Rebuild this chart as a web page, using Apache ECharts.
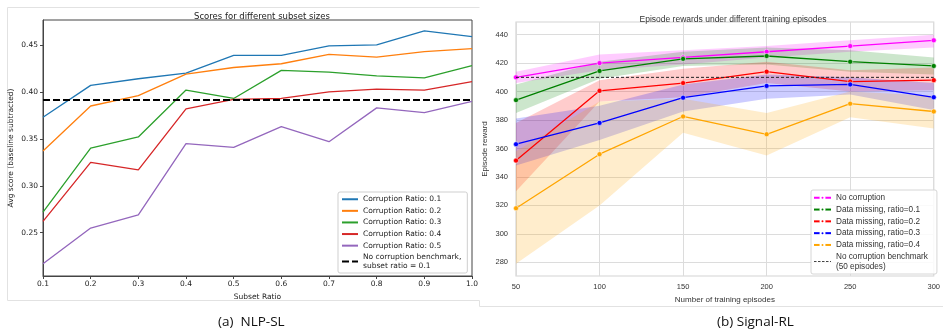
<!DOCTYPE html>
<html>
<head>
<meta charset="utf-8">
<script src="https://cdn.jsdelivr.net/npm/echarts@6/dist/echarts.min.js"></script>
<style>
  html, body { margin: 0; padding: 0; background: #fff; }
  #c { width: 943px; height: 335px; }
</style>
</head>
<body>
<div id="c"></div>
<script>
// ---- (a) NLP-SL: average score vs subset ratio ----
const subsetRatios = [0.1, 0.2, 0.3, 0.4, 0.5, 0.6, 0.7, 0.8, 0.9, 1.0];
const corrupt01 = [0.373, 0.407, 0.414, 0.420, 0.439, 0.439, 0.449, 0.450, 0.465, 0.459];
const corrupt02 = [0.337, 0.385, 0.396, 0.419, 0.426, 0.430, 0.440, 0.437, 0.443, 0.446];
const corrupt03 = [0.272, 0.340, 0.352, 0.402, 0.393, 0.423, 0.421, 0.417, 0.415, 0.428];
const corrupt04 = [0.262, 0.325, 0.317, 0.382, 0.392, 0.393, 0.400, 0.403, 0.402, 0.411];
const corrupt05 = [0.217, 0.255, 0.269, 0.345, 0.341, 0.363, 0.347, 0.383, 0.378, 0.390];
const nlpBenchmark = 0.3915;
const nlpYTicks = [0.25, 0.30, 0.35, 0.40, 0.45];

// ---- (b) Signal-RL: episode reward vs training episodes ----
const episodes = [50, 100, 150, 200, 250, 300];
const noCorruption = [410, 420, 424, 428, 432, 436];
const noCorruptionLo = [406, 415, 419, 424, 428, 431];
const noCorruptionHi = [414, 426, 429, 432, 436, 440];
const missing01 = [394, 414.5, 423, 425, 421, 418];
const missing01Lo = [385, 409, 418, 419, 414, 412];
const missing01Hi = [405, 421, 428, 431, 429, 424];
const missing02 = [351.5, 400.5, 406, 414, 407, 408];
const missing02Lo = [330, 393, 396, 406, 400, 401];
const missing02Hi = [378, 408, 416, 421, 415, 417];
const missing03 = [363, 378, 395.7, 404, 405, 396];
const missing03Lo = [348, 366, 386, 395, 398, 387];
const missing03Hi = [381, 390, 405, 412, 410, 406];
const missing04 = [318, 356, 382.5, 370, 391.5, 386];
const missing04Lo = [279, 320, 371, 355, 382, 374];
const missing04Hi = [358, 393, 395, 385, 400, 397];
const rlBenchmark = 410;
const rlYTicks = [280, 300, 320, 340, 360, 380, 400, 420, 440];

const pairs = (xs, ys) => xs.map((x, i) => [x, ys[i]]);

const nlpSeries = [
  ['Corruption Ratio: 0.1', corrupt01, '#1f77b4'],
  ['Corruption Ratio: 0.2', corrupt02, '#ff7f0e'],
  ['Corruption Ratio: 0.3', corrupt03, '#2ca02c'],
  ['Corruption Ratio: 0.4', corrupt04, '#d62728'],
  ['Corruption Ratio: 0.5', corrupt05, '#9467bd']
];
const nlpBenchName = 'No corruption benchmark, subset ratio = 0.1';

const rlSeries = [
  ['No corruption', noCorruption, noCorruptionLo, noCorruptionHi, '#ff00ff'],
  ['Data missing, ratio=0.1', missing01, missing01Lo, missing01Hi, '#008000'],
  ['Data missing, ratio=0.2', missing02, missing02Lo, missing02Hi, '#ff0000'],
  ['Data missing, ratio=0.3', missing03, missing03Lo, missing03Hi, '#0000ff'],
  ['Data missing, ratio=0.4', missing04, missing04Lo, missing04Hi, '#ffa500']
];
const rlBenchName = 'No corruption benchmark (50 episodes)';

const series = [];

nlpSeries.forEach(([name, vals, color]) => {
  series.push({
    name, type: 'line', xAxisIndex: 0, yAxisIndex: 0,
    data: pairs(subsetRatios, vals), symbol: 'none',
    lineStyle: { color, width: 1.3 }, itemStyle: { color },
    animation: false, z: 3
  });
});
series.push({
  name: nlpBenchName, type: 'line', xAxisIndex: 0, yAxisIndex: 0,
  data: [[subsetRatios[0], nlpBenchmark], [subsetRatios[subsetRatios.length - 1], nlpBenchmark]],
  symbol: 'none', lineStyle: { color: '#000', width: 2, type: [7, 3] },
  itemStyle: { color: '#000' }, animation: false, z: 4
});

// confidence band: one filled polygon between the lower and upper bounds
function bandSeries(lo, hi, color) {
  return {
    type: 'custom', xAxisIndex: 1, yAxisIndex: 1,
    data: episodes.map((x, i) => [x, lo[i], hi[i]]),
    encode: { x: 0, y: [1, 2] },
    silent: true, animation: false, z: 1, clip: true,
    renderItem: (params, api) => {
      if (params.dataIndex !== 0) return null;
      const upper = [], lower = [];
      for (let i = 0; i < episodes.length; i++) {
        upper.push(api.coord([episodes[i], hi[i]]));
        lower.push(api.coord([episodes[i], lo[i]]));
      }
      return {
        type: 'polygon',
        shape: { points: upper.concat(lower.reverse()) },
        style: { fill: color, opacity: 0.2 }
      };
    }
  };
}

rlSeries.forEach(([name, vals, lo, hi, color]) => {
  series.push(bandSeries(lo, hi, color));
  series.push({
    name, type: 'line', xAxisIndex: 1, yAxisIndex: 1,
    data: pairs(episodes, vals), symbol: 'circle', symbolSize: 5, showSymbol: true,
    lineStyle: { color, width: 1.3 },
    itemStyle: { color, borderColor: '#fff', borderWidth: 0.5 },
    animation: false, z: 3
  });
});
series.push({
  name: rlBenchName, type: 'line', xAxisIndex: 1, yAxisIndex: 1,
  data: [[episodes[0], rlBenchmark], [episodes[episodes.length - 1], rlBenchmark]],
  symbol: 'none', lineStyle: { color: '#222', width: 1, type: [3, 2] },
  itemStyle: { color: '#222' }, animation: false, z: 4
});

const leftFont = 'DejaVu Sans';
const rightFont = 'Liberation Sans';
const panelLine = { stroke: '#e2e2e2', lineWidth: 1 };

const option = {
  backgroundColor: '#fff',
  animation: false,
  title: [
    { text: 'Scores for different subset sizes', left: 257, top: 7, textAlign: 'center',
      textStyle: { fontFamily: leftFont, fontSize: 8.5, fontWeight: 'normal', color: '#222' } },
    { text: 'Episode rewards under different training episodes', left: 728, top: 10, textAlign: 'center',
      textStyle: { fontFamily: rightFont, fontSize: 8.5, fontWeight: 'normal', color: '#333' } }
  ],
  grid: [
    { left: 43, top: 20, width: 429, height: 256, show: true, borderColor: '#444', borderWidth: 1 },
    { left: 516, top: 22, width: 425, height: 254, show: true, borderColor: '#d4d4d4', borderWidth: 1.2 }
  ],
  xAxis: [
    { type: 'value', gridIndex: 0, min: 0.1, max: 1.0, interval: 0.1,
      name: 'Subset Ratio', nameLocation: 'middle', nameGap: 15,
      nameTextStyle: { fontFamily: leftFont, fontSize: 7.5, color: '#222' },
      axisLine: { show: true, lineStyle: { color: '#444', width: 1 } },
      axisTick: { show: true, inside: false, length: 3, lineStyle: { color: '#444' } },
      axisLabel: { fontFamily: leftFont, fontSize: 7.5, color: '#222', margin: 4,
        formatter: v => v.toFixed(1) },
      splitLine: { show: false } },
    { type: 'value', gridIndex: 1, min: 50, max: 300, interval: 50,
      name: 'Number of training episodes', nameLocation: 'middle', nameGap: 16,
      nameTextStyle: { fontFamily: rightFont, fontSize: 8, color: '#333' },
      axisLine: { show: false },
      axisTick: { show: false },
      axisLabel: { fontFamily: rightFont, fontSize: 7.5, color: '#333', margin: 7,
        alignMaxLabel: 'center' },
      splitLine: { show: true, lineStyle: { color: '#dcdcdc', width: 1 } } }
  ],
  yAxis: [
    { type: 'value', gridIndex: 0, min: 0.2039, max: 0.4766,
      name: 'Avg score (baseline subtracted)', nameLocation: 'middle', nameGap: 28,
      nameTextStyle: { fontFamily: leftFont, fontSize: 7.5, color: '#222' },
      axisLine: { show: true, lineStyle: { color: '#444', width: 1 } },
      axisTick: { show: true, inside: false, length: 3, lineStyle: { color: '#444' },
        customValues: nlpYTicks },
      axisLabel: { fontFamily: leftFont, fontSize: 7.5, color: '#222', margin: 5,
        customValues: nlpYTicks, formatter: v => v.toFixed(2) },
      splitLine: { show: false } },
    { type: 'value', gridIndex: 1, min: 270.4, max: 448.9,
      name: 'Episode reward', nameLocation: 'middle', nameGap: 27,
      nameTextStyle: { fontFamily: rightFont, fontSize: 8, color: '#333' },
      axisLine: { show: false },
      axisTick: { show: false, customValues: rlYTicks },
      axisLabel: { fontFamily: rightFont, fontSize: 7.5, color: '#333', margin: 8,
        customValues: rlYTicks },
      splitLine: { show: true, lineStyle: { color: '#dcdcdc', width: 1 } } }
  ],
  legend: [
    { data: nlpSeries.map(s => s[0]).concat([nlpBenchName]),
      orient: 'vertical', left: 338, top: 192,
      itemWidth: 16, itemHeight: 8, itemGap: 3.1,
      padding: [3, 6, 3, 3],
      itemStyle: { opacity: 0 },
      backgroundColor: 'rgba(255,255,255,0.85)', borderColor: '#cfcfcf', borderWidth: 1, borderRadius: 2,
      textStyle: { fontFamily: leftFont, fontSize: 7.5, color: '#222', lineHeight: 8.5 },
      formatter: name => name.replace(', ', ',\n'),
      selectedMode: false },
    { data: rlSeries.map(s => s[0]).concat([{ name: rlBenchName, itemStyle: { opacity: 0 },
        lineStyle: { width: 1, type: [2.5, 1.5], color: '#444' } }]),
      orient: 'vertical', left: 811, top: 190,
      itemWidth: 17, itemHeight: 5, itemGap: 2.3,
      padding: [3, 9, 3, 2],
      backgroundColor: 'rgba(255,255,255,0.85)', borderColor: '#d6d6d6', borderWidth: 1, borderRadius: 2,
      textStyle: { fontFamily: rightFont, fontSize: 8.2, color: '#333', lineHeight: 9.5 },
      formatter: name => name.replace(' (', '\n('),
      selectedMode: false }
  ],
  graphic: [
    // panel frames
    { type: 'line', shape: { x1: 7.5, y1: 7.5, x2: 479.5, y2: 7.5 }, style: panelLine, silent: true },
    { type: 'line', shape: { x1: 7.5, y1: 7.5, x2: 7.5, y2: 300.5 }, style: panelLine, silent: true },
    { type: 'line', shape: { x1: 7.5, y1: 300.5, x2: 479.5, y2: 300.5 }, style: panelLine, silent: true },
    { type: 'line', shape: { x1: 479.5, y1: 300.5, x2: 479.5, y2: 306.5 }, style: panelLine, silent: true },
    { type: 'line', shape: { x1: 479.5, y1: 306.5, x2: 943, y2: 306.5 }, style: panelLine, silent: true },
    // captions
    { type: 'text', left: 218, top: 315,
      style: { text: '(a)  NLP-SL', font: '13.5px "Open Sans"', fill: '#111' } },
    { type: 'text', left: 717, top: 315,
      style: { text: '(b) Signal-RL', font: '13.5px "Open Sans"', fill: '#111' } }
  ],
  series
};

const chart = echarts.init(document.getElementById('c'), null, { renderer: 'canvas' });
chart.setOption(option);
</script>
</body>
</html>
